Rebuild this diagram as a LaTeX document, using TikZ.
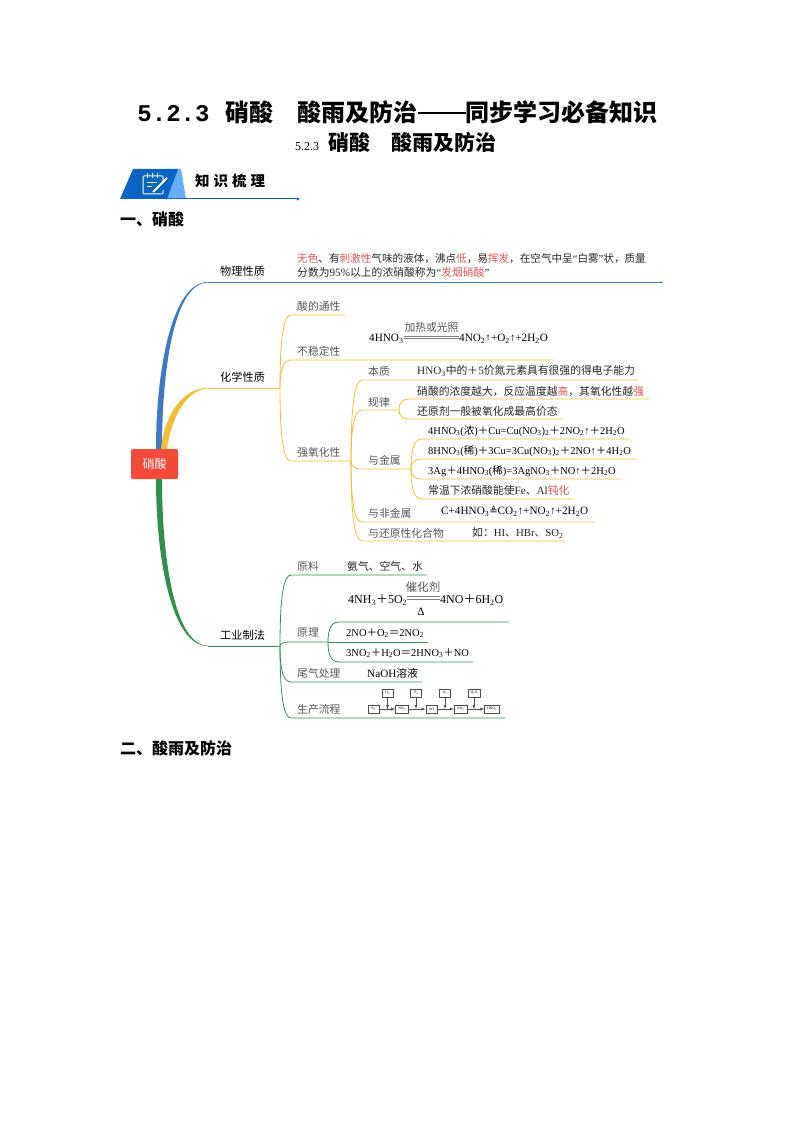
\documentclass[tikz,border=0pt]{standalone}
\usepackage{fontspec}
\setmainfont{Liberation Serif}
\newfontfamily\cjk{Noto Sans CJK SC}
\newfontfamily\wide{Liberation Mono}
\newfontfamily\dejavu{DejaVu Sans}
\usetikzlibrary{calc,positioning}
\definecolor{rootred}{HTML}{F44A3C}
\definecolor{mapblue}{HTML}{3F78C4}
\definecolor{mapyellow}{HTML}{F0BE2E}
\definecolor{mapgreen}{HTML}{2F8F4E}
\definecolor{hotred}{HTML}{D8555A}
\definecolor{labelgray}{HTML}{555555}
\definecolor{tabblue}{HTML}{0A64C4}
\definecolor{tablight}{HTML}{66AEF5}
\newcommand\fs[1]{\fontsize{#1}{#1}\selectfont}
\newcommand\dn[1]{\textsubscript{#1}}
\newcommand\pl{{\cjk\char"FF0B\relax}}
\newcommand\eq{{\cjk\char"FF1D\relax}}
\newcommand\cm{{\cjk\char"FF0C\relax}}
\newcommand\cn{{\cjk\char"FF1A\relax}}
\newcommand\hot[1]{\textcolor{hotred}{#1}}
\newcommand\en[1]{{\rmfamily\fs{11.2}#1}}
\newcommand\limb[4]{%
    \coordinate (#2e) at (#4,#3);
    \coordinate (#2s) at ($(#1 |- #2e)+(11,0)$);
    \draw (#1) to[limbcurve] (#2s) -- (#2e);
}
\newcommand\twin[4]{%
    \draw [twinline] ($(#1)+(0,#3)$) -- ($(#2)+(0,#3)$);
    \draw [twinline] ($(#1)+(0,#4)$) -- ($(#2)+(0,#4)$);
}
\tikzset{
    limbcurve/.style={to path={.. controls ($(\tikztostart)!.72!(\tikztostart |- \tikztotarget)$) and ($(\tikztostart |- \tikztotarget)!.35!(\tikztotarget)$) .. (\tikztotarget)}},
    bigtitle/.style={node font=\fs{24}\bfseries\cjk,inner sep=0pt},
    head/.style={node font=\fs{16}\bfseries\cjk,inner sep=0pt,anchor=west},
    mainlabel/.style={node font=\fs{11.2}\cjk,inner sep=0pt,anchor=west,text=black},
    sublabel/.style={node font=\fs{10.8}\cjk,inner sep=0pt,anchor=west,text=labelgray},
    note/.style={node font=\fs{10.8}\cjk,inner sep=0pt,anchor=west,text=black!85},
    fml/.style={node font=\fs{11.2}\rmfamily,inner sep=0pt,anchor=west,text=black},
    flowbox/.style={draw=black!70,line width=.4pt,inner sep=0pt,minimum width=11pt,minimum height=8pt,node font=\fs{3.6}\rmfamily},
    flecha/.style={draw=black!70,line width=.4pt,->,>=latex},
    twinline/.style={draw=black!50,line width=.6pt},
}
\begin{document}
\begin{tikzpicture}[x=1pt,y=-1pt]
    \useasboundingbox (0,0) rectangle (794,1123);
    % headings
    \node [bigtitle] (title) at (397.5,112) {{\wide 5.2.3}\hspace{16pt}硝酸\hspace{24pt}酸雨及防治\rule[7.5pt]{48pt}{1.3pt}同步学习必备知识};
    \node [bigtitle,node font=\fs{21}\bfseries\cjk] (subtitle) at (396,142) {{\rmfamily\mdseries\fs{12}5.2.3}\hspace{9pt}硝酸\hspace{22pt}酸雨及防治};
    % banner
    \fill [tablight] (176,169) -- (181,169) -- (186,199) -- (166,199) -- cycle;
    \fill [tabblue] (133,169) -- (178,169) -- (167,199) -- (120,199) -- cycle;
    \draw [white,line width=1pt,rounded corners=1pt] (163,182) -- (163,176) -- (143,176) -- (143,194) -- (163,194) -- (163,190);
    \draw [white,line width=1pt] (147,173.5) -- (147,178) (152,173.5) -- (152,178) (157,173.5) -- (157,178);
    \draw [white,line width=.9pt] (147,182) -- (157,182) (147,186) -- (152,186);
    \draw [white,line width=2pt] (153,192) -- (167,178);
    \coordinate (tabstart) at (120,199);
    \coordinate (tabend) at (298,199);
    \draw [tabblue,line width=1pt] (tabstart) -- (tabend);
    \fill [tabblue] (tabend) circle (1.6);
    \node [head,node font=\fs{14.5}\bfseries\cjk] (tabtext) at (195,181) {知\hspace{4pt}识\hspace{4pt}梳\hspace{4pt}理};
    \node [head] (one) at (120,219) {一、硝酸};
    \node [head] (two) at (120,748) {二、酸雨及防治};
    % root and thick limbs
    \coordinate (blues) at (208,282);
    \coordinate (bluee) at (663,282);
    \coordinate (chemhub) at (280,388);
    \coordinate (yellows) at (208,388);
    \coordinate (makehub) at (280,646);
    \coordinate (greens) at (208,646);
    \fill [mapblue] (156,449) .. controls (156,370) and (172,281.5) .. (blues) -- (208,282.6) .. controls (174,282.6) and (162,370) .. (162,449) -- cycle;
    \draw [mapblue,line width=1pt] (blues) -- (bluee);
    \fill [mapyellow] (161,449) .. controls (165,410) and (186,387.5) .. (yellows) -- (208,388.6) .. controls (190,388.6) and (172,412) .. (167,449) -- cycle;
    \draw [mapyellow,line width=1pt] (yellows) -- (chemhub);
    \fill [mapgreen] (156,479) .. controls (156,560) and (172,646.5) .. (greens) -- (208,645.6) .. controls (175,645.6) and (162,560) .. (162,479) -- cycle;
    \draw [mapgreen,line width=1pt] (greens) -- (makehub);
    \node [fill=rootred,rounded corners=1.5pt,minimum width=47pt,minimum height=30pt,inner sep=0pt,text=white,node font=\fs{12}\cjk] (root) at (154.5,464) {硝酸};
    % physical
    \node [mainlabel] (phys) at (220,271) {物理性质};
    \node [note,node font=\fs{10.6}\cjk] (physa) at (297,259) {\hot{无色}、有\hot{刺激性}气味的液体\cm 沸点\hot{低}\cm 易\hot{挥发}\cm 在空气中呈{\rmfamily “}白雾{\rmfamily ”}状\cm 质量};
    \node [note] (physb) at (297,272) {分数为\en{95\%}以上的浓硝酸称为{\rmfamily “}\hot{发烟硝酸}{\rmfamily ”}};
    % chemical
    \node [mainlabel] (chem) at (220,377) {化学性质};
    \begin{scope}[mapyellow,line width=.8pt]
        \limb{chemhub}{acid}{315}{345}
        \limb{chemhub}{heat}{360}{553}
        \limb{chemhub}{oxid}{461}{351}
        \coordinate (oxidhub) at (351,461);
        \limb{oxidhub}{nature}{380}{638}
        \limb{oxidhub}{rule}{410}{399}
        \limb{oxidhub}{metal}{469}{411}
        \limb{oxidhub}{nonmetal}{522}{595}
        \limb{oxidhub}{reduce}{541}{565}
        \coordinate (rulehub) at (399,410);
        \limb{rulehub}{rulea}{399}{649}
        \limb{rulehub}{ruleb}{419}{563}
        \coordinate (metalhub) at (411,469);
        \limb{metalhub}{metala}{439}{629}
        \limb{metalhub}{metalb}{459}{637}
        \limb{metalhub}{metalc}{479}{621}
        \limb{metalhub}{metald}{499}{573}
    \end{scope}
    \node [sublabel] (acid) at (297,306) {酸的通性};
    \node [sublabel] (heat) at (297,351) {不稳定性};
    \node [sublabel] (oxid) at (297,452) {强氧化性};
    \node [fml] (hno) at (369,339) {4HNO\dn{3}};
    \node [fml] (hnoright) at (459,339) {4NO\dn{2}↑+O\dn{2}↑+2H\dn{2}O};
    \node [sublabel,anchor=center] (hnotop) at (431.5,327) {加热或光照};
    \twin{hno.east}{hnoright.west}{-.6}{-2.6}
    \node [sublabel] (nature) at (368,371) {本质};
    \node [note] (naturetxt) at (417,371) {\en{HNO\dn{3}}中的\pl\en{5}价氮元素具有很强的得电子能力};
    \node [sublabel] (rule) at (368,402) {规律};
    \node [note] (rulea) at (417,391) {硝酸的浓度越大\cm 反应温度越\hot{高}\cm 其氧化性越\hot{强}};
    \node [note] (ruleb) at (417,411) {还原剂一般被氧化成最高价态};
    \node [sublabel] (metal) at (368,460) {与金属};
    \node [fml,node font=\fs{10.5}\rmfamily] (metala) at (428,431) {4HNO\dn{3}({\cjk 浓})\pl Cu=Cu(NO\dn{3})\dn{2}\pl 2NO\dn{2}↑\pl 2H\dn{2}O};
    \node [fml,node font=\fs{10.5}\rmfamily] (metalb) at (428,451) {8HNO\dn{3}({\cjk 稀})\pl 3Cu=3Cu(NO\dn{3})\dn{2}\pl 2NO↑\pl 4H\dn{2}O};
    \node [fml,node font=\fs{10.5}\rmfamily] (metalc) at (428,471) {3Ag\pl 4HNO\dn{3}({\cjk 稀})=3AgNO\dn{3}\pl NO↑\pl 2H\dn{2}O};
    \node [note] (metald) at (428,490) {常温下浓硝酸能使\en{Fe}、\en{Al}\hot{钝化}};
    \node [sublabel] (nonmetal) at (368,513) {与非金属};
    \node [fml] (nonmetaltxt) at (441,511) {C+4HNO\dn{3}{\dejavu\fs{10}≜}CO\dn{2}↑+NO\dn{2}↑+2H\dn{2}O};
    \node [sublabel] (reduce) at (368,533) {与还原性化合物};
    \node [note] (reducetxt) at (472,533) {如\cn{\rmfamily HI}、{\rmfamily HBr}、{\rmfamily SO\dn{2}}};
    % industry
    \node [mainlabel] (make) at (220,635) {工业制法};
    \begin{scope}[mapgreen,line width=.8pt]
        \limb{makehub}{raw}{575}{427}
        \limb{makehub}{prin}{642}{328}
        \limb{makehub}{tail}{682}{422}
        \limb{makehub}{flow}{718}{505}
        \coordinate (prinhub) at (328,642);
        \limb{prinhub}{prina}{622}{509}
        \coordinate (prinb) at (428,642);
        \draw (prinhub) -- (prinb);
        \limb{prinhub}{princ}{662}{473}
    \end{scope}
    \node [sublabel] (raw) at (297,566) {原料};
    \node [note] (rawtxt) at (347,566) {氨气、空气、水};
    \node [fml,node font=\fs{12}\rmfamily] (nh) at (348,600) {4NH\dn{3}\pl 5O\dn{2}};
    \node [fml,node font=\fs{12}\rmfamily] (nhright) at (440,600) {4NO\pl 6H\dn{2}O};
    \node [sublabel,anchor=center,node font=\fs{11.5}\cjk] (nhtop) at (423,587) {催化剂};
    \node [fml,anchor=center] (nhbot) at (421,612) {Δ};
    \twin{nh.east}{nhright.west}{-1}{-3.4}
    \node [sublabel] (prin) at (297,633) {原理};
    \node [fml,node font=\fs{10.5}\rmfamily] (prinbtxt) at (346,633) {2NO\pl O\dn{2}\eq 2NO\dn{2}};
    \node [fml,node font=\fs{10.5}\rmfamily] (princtxt) at (346,653) {3NO\dn{2}\pl H\dn{2}O\eq 2HNO\dn{3}\pl NO};
    \node [sublabel] (tail) at (297,673) {尾气处理};
    \node [fml] (tailtxt) at (367,673) {NaOH{\cjk\fs{10.8}溶液}};
    \node [sublabel] (flow) at (297,709) {生产流程};
    % little process chart
    \node [flowbox] (nitro) at (373.5,709) {N\dn{2}};
    \node [flowbox,right=16pt of nitro,minimum width=13pt] (ammonia) {NH\dn{3}};
    \node [flowbox,right=17pt of ammonia] (oxide) {NO};
    \node [flowbox,right=17pt of oxide,minimum width=13pt] (dioxide) {NO\dn{2}};
    \node [flowbox,right=17pt of dioxide,minimum width=15pt] (acidout) {HNO\dn{3}};
    \node [flowbox] (hydrogen) at (387.5,693) {H\dn{2}};
    \node [flowbox] (oxya) at (416,693) {O\dn{2}};
    \node [flowbox] (oxyb) at (445,693) {O\dn{2}};
    \node [flowbox,minimum width=12pt] (water) at (474,693) {H\dn{2}O};
    \path [flecha] (nitro) -- (ammonia);
    \path [flecha] (ammonia) -- (oxide);
    \path [flecha] (oxide) -- (dioxide);
    \path [flecha] (dioxide) -- (acidout);
    \path [flecha] (hydrogen) -- (hydrogen |- nitro);
    \path [flecha] (oxya) -- (oxya |- nitro);
    \path [flecha] (oxyb) -- (oxyb |- nitro);
    \path [flecha] (water) -- (water |- nitro);
\end{tikzpicture}
\end{document}
